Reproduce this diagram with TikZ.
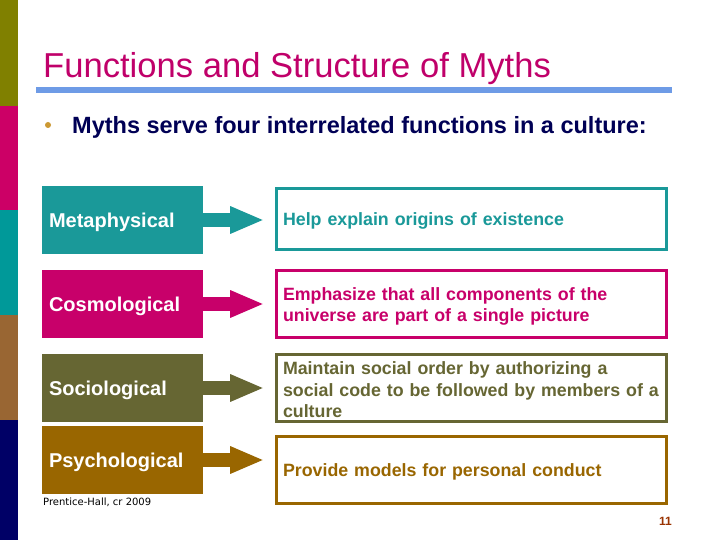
\documentclass[tikz,border=0pt]{standalone}
\usepackage{fontspec}
\setmainfont{Liberation Sans}
\newfontfamily\smallfont{DejaVu Sans}
\usetikzlibrary{arrows.meta,calc}
\hyphenpenalty=10000
\exhyphenpenalty=10000
\definecolor{cTeal}{HTML}{1A9999}
\definecolor{cCrim}{HTML}{C8006A}
\definecolor{cOlive}{HTML}{666633}
\definecolor{cBrown}{HTML}{996600}
\definecolor{sOlive}{HTML}{808000}
\definecolor{sCrim}{HTML}{CC0066}
\definecolor{sTeal}{HTML}{009999}
\definecolor{sBrown}{HTML}{996633}
\definecolor{sNavy}{HTML}{000066}
\definecolor{cTitle}{HTML}{C0006A}
\definecolor{cBar}{HTML}{6E9BE6}
\definecolor{cBullet}{HTML}{CC9933}
\definecolor{cSub}{HTML}{000055}
\definecolor{cNum}{HTML}{993300}
\tikzset{
  leftbox/.style={minimum width=161pt, minimum height=68pt, inner sep=7pt, text width=147pt, align=left, text=white, text depth=0pt, font=\bfseries\fontsize{20}{24}\selectfont},
  rightbox/.style={draw, line width=3pt, minimum width=390pt, inner sep=0pt},
  righttext/.style={inner xsep=0pt, inner ysep=0pt, text width=377pt, align=left, font=\bfseries\fontsize{17.8}{21.5}\selectfont},
  fatarrow/.style={line width=14pt, -{Triangle[length=34pt,width=25pt]}},
}
\begin{document}
\begin{tikzpicture}[x=1pt,y=-1pt]
\useasboundingbox (0,0) rectangle (720,540);
\fill[white] (0,0) rectangle (720,540);
% side stripe
\fill[sOlive] (0,0) rectangle (18,106);
\fill[sCrim] (0,106) rectangle (18,210);
\fill[sTeal] (0,210) rectangle (18,315);
\fill[sBrown] (0,315) rectangle (18,420);
\fill[sNavy] (0,420) rectangle (18,540);
% title
\node[anchor=base west, inner sep=0, text=cTitle, font=\fontsize{34.6}{40}\selectfont] (title) at (43,78) {Functions and Structure of Myths};
\fill[cBar] (36,87) rectangle (672,93);
\node[circle, fill=cBullet, inner sep=0, minimum size=6pt] (bul) at (48,125) {};
\node[anchor=base west, inner sep=0, text=cSub, font=\bfseries\fontsize{23.5}{28}\selectfont] (sub) at (72,134) {Myths serve four interrelated functions in a culture:};
% left boxes
\node[leftbox, fill=cTeal] (m) at (122.5,220) {Metaphysical};
\node[leftbox, fill=cCrim] (c) at (122.5,304) {Cosmological};
\node[leftbox, fill=cOlive] (s) at (122.5,388) {Sociological};
\node[leftbox, fill=cBrown] (p) at (122.5,460) {Psychological};
% right boxes
\node[rightbox, draw=cTeal, minimum height=61pt] (rm) at (471.5,219) {};
\node[rightbox, draw=cCrim, minimum height=67pt] (rc) at (471.5,304) {};
\node[rightbox, draw=cOlive, minimum height=67pt] (rs) at (471.5,388) {};
\node[rightbox, draw=cBrown, minimum height=67pt] (rp) at (471.5,470) {};
\node[righttext, text=cTeal] (rmt) at ([yshift=-2pt]rm.center) {Help explain origins of existence};
\node[righttext, text=cCrim] (rct) at ([yshift=-2.5pt]rc.center) {Emphasize that all components of the\\universe are part of a single picture};
\node[righttext, text=cOlive] (rst) at ([yshift=-2pt]rs.center) {Maintain social order by authorizing a\\social code to be followed by members of a\\culture};
\node[righttext, text=cBrown] (rpt) at ([yshift=-2pt]rp.center) {Provide models for personal conduct};
% arrows
\coordinate (tm) at ($(m.east)+(61,0)$);
\coordinate (tc) at ($(c.east)+(61,0)$);
\coordinate (ts) at ($(s.east)+(61,0)$);
\coordinate (tp) at ($(p.east)+(61,0)$);
\draw[fatarrow, cTeal] (m.east) -- (tm);
\draw[fatarrow, cCrim] (c.east) -- (tc);
\draw[fatarrow, cOlive] (s.east) -- (ts);
\draw[fatarrow, cBrown] (p.east) -- (tp);
% footer
\node[anchor=base west, inner sep=0, font=\smallfont\fontsize{10}{12}\selectfont] (cr) at (43,505) {Prentice-Hall, cr 2009};
\node[anchor=base east, inner sep=0, text=cNum, font=\bfseries\fontsize{12}{14}\selectfont] (num) at (672,525) {11};
\end{tikzpicture}
\end{document}
